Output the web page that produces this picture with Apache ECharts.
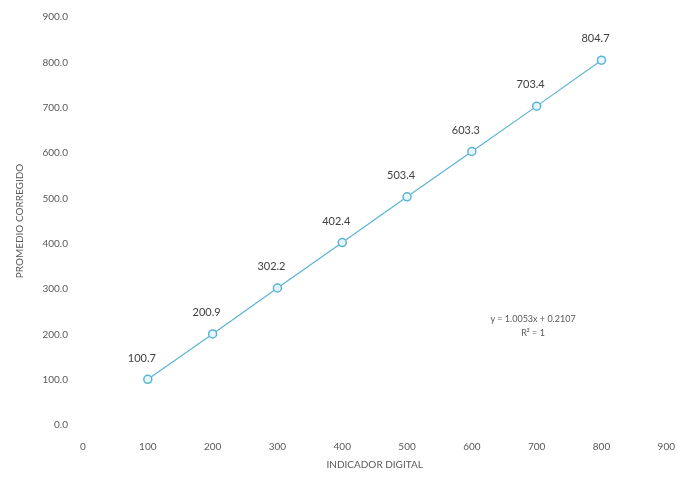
<!DOCTYPE html>
<html>
<head>
<meta charset="utf-8">
<script src="https://cdn.jsdelivr.net/npm/echarts@6/dist/echarts.min.js"></script>
<style>
  html, body { margin: 0; padding: 0; background: #ffffff; }
  #chart { width: 678px; height: 477px; }
</style>
</head>
<body>
<div id="chart"></div>
<script>
// Digital indicator readings vs. corrected average
const indicador = [100, 200, 300, 400, 500, 600, 700, 800];
const promedio = [100.7, 200.9, 302.2, 402.4, 503.4, 603.3, 703.4, 804.7];
const ecuacion = 'y = 1.0053x + 0.2107';
const r2 = 'R² = 1';

const textColor = '#595959';
const lineColor = '#5ab4d6';
const fontFamily = 'Lato, "Open Sans", "Liberation Sans", sans-serif';

const chart = echarts.init(document.getElementById('chart'), null, { renderer: 'canvas' });

chart.setOption({
  backgroundColor: '#ffffff',
  animation: false,
  textStyle: { fontFamily: fontFamily },
  grid: { left: 83, right: 10, top: 17, bottom: 52, containLabel: false },
  xAxis: {
    type: 'value',
    min: 0, max: 900, interval: 100,
    name: 'INDICADOR DIGITAL',
    nameLocation: 'middle',
    nameGap: 35,
    nameTextStyle: { color: textColor, fontSize: 10, fontFamily: fontFamily },
    axisLine: { show: false },
    axisTick: { show: false },
    splitLine: { show: false },
    axisLabel: { color: textColor, fontSize: 10, margin: 17 }
  },
  yAxis: {
    type: 'value',
    min: 0, max: 900, interval: 100,
    name: 'PROMEDIO CORREGIDO',
    nameLocation: 'middle',
    nameGap: 58,
    nameRotate: 90,
    nameTextStyle: { color: textColor, fontSize: 10, fontFamily: fontFamily },
    axisLine: { show: false },
    axisTick: { show: false },
    splitLine: { show: false },
    axisLabel: {
      color: textColor, fontSize: 10, margin: 15,
      formatter: v => v.toFixed(1)
    }
  },
  series: [{
    type: 'line',
    data: indicador.map((x, i) => [x, promedio[i]]),
    symbol: 'circle',
    symbolSize: 8,
    lineStyle: { color: lineColor, width: 1.2 },
    itemStyle: { color: '#e8f5fb', borderColor: lineColor, borderWidth: 1.5 },
    label: {
      show: true,
      position: 'top',
      offset: [-6, -6],
      color: '#404040',
      fontSize: 11,
      formatter: p => p.value[1].toFixed(1)
    }
  }],
  graphic: [{
    type: 'text',
    x: 533, y: 312,
    style: {
      text: ecuacion + '\n' + r2,
      fill: textColor,
      fontSize: 9,
      fontFamily: fontFamily,
      align: 'center',
      verticalAlign: 'top',
      lineHeight: 14
    }
  }]
});
</script>
</body>
</html>
